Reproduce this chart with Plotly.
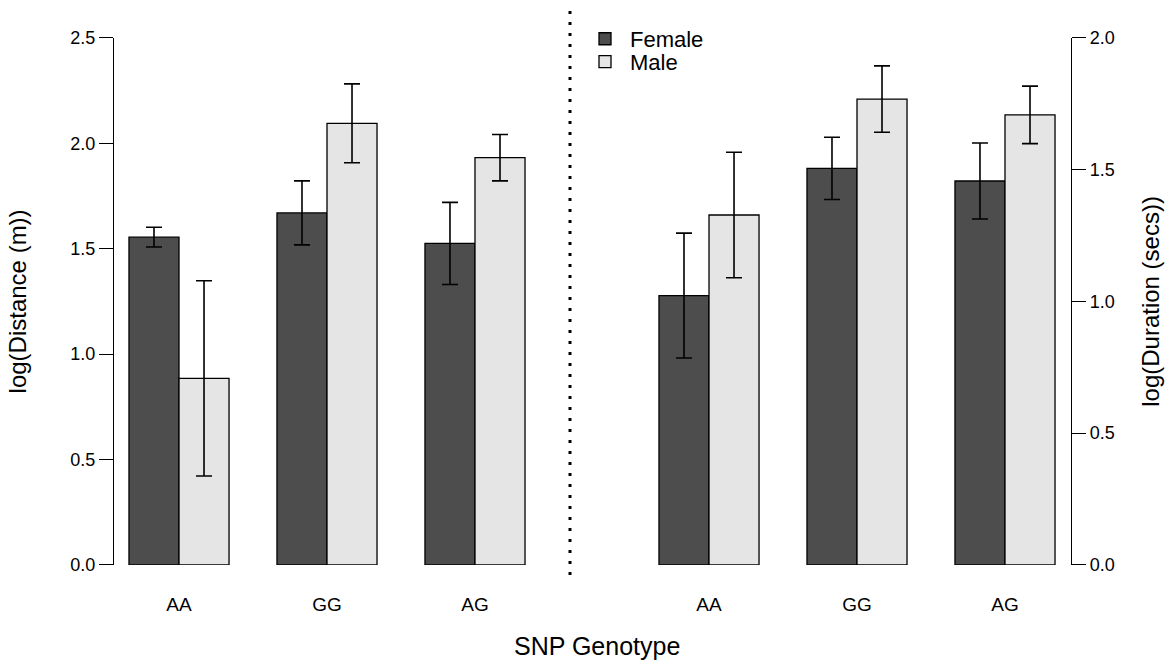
import plotly.graph_objects as go

# ---- data ----
genotypes = ["AA", "GG", "AG"]

dist_female = [1.555, 1.67, 1.525]
dist_female_err = [0.047, 0.152, 0.195]
dist_male = [0.885, 2.095, 1.932]
dist_male_err = [0.463, 0.187, 0.11]

dur_female = [1.022, 1.505, 1.457]
dur_female_err = [0.237, 0.118, 0.144]
dur_male = [1.328, 1.768, 1.708]
dur_male_err = [0.238, 0.126, 0.109]

left_ticks = [0.0, 0.5, 1.0, 1.5, 2.0, 2.5]
right_ticks = [0.0, 0.5, 1.0, 1.5, 2.0]

FEMALE_COL = "#4D4D4D"
MALE_COL = "#E5E5E5"
FONT = "Liberation Sans, Arial, Helvetica, sans-serif"

W, H = 1169, 668
# the photographed page shows the paper slightly inset vertically;
# map reference pixel rows onto paper fractions accordingly
Y_OFF, Y_SCALE = 9.0, 0.972


def px_x(p):
    return p / W


def px_y(p):
    return 1 - ((p - Y_OFF) / Y_SCALE) / H


fig = go.Figure()

err_style = dict(type="data", color="black", thickness=1.6, width=8)


def add_bars(xaxis, yaxis, f, fe, m, me, show):
    fig.add_trace(go.Bar(
        x=genotypes, y=f, name="Female", xaxis=xaxis, yaxis=yaxis,
        marker=dict(color=FEMALE_COL, line=dict(color="black", width=1.3)),
        error_y=dict(array=fe, **err_style), showlegend=show,
        legend="legend"))
    fig.add_trace(go.Bar(
        x=genotypes, y=m, name="Male", xaxis=xaxis, yaxis=yaxis,
        marker=dict(color=MALE_COL, line=dict(color="black", width=1.3)),
        error_y=dict(array=me, **err_style), showlegend=show,
        legend="legend2"))


add_bars("x", "y", dist_female, dist_female_err, dist_male, dist_male_err, True)
add_bars("x2", "y2", dur_female, dur_female_err, dur_male, dur_male_err, False)

ydom = [px_y(565), px_y(37)]
xrange_ = [-0.446, 2.446]

common_x = dict(
    type="category", range=xrange_, showline=False, showgrid=False,
    zeroline=False, ticks="outside", ticklen=22, tickcolor="rgba(0,0,0,0)",
    tickfont=dict(family=FONT, size=19, color="black"),
)
common_y = dict(
    showline=True, linecolor="black", linewidth=1.3, showgrid=False,
    zeroline=False, ticks="outside", ticklen=14, tickwidth=1.3,
    tickcolor="black", tickformat=".1f",
    tickfont=dict(family=FONT, size=18, color="black"),
    domain=ydom,
)

legend_common = dict(
    xanchor="left", yanchor="middle", bgcolor="rgba(0,0,0,0)",
    borderwidth=0, itemwidth=40,
    font=dict(family=FONT, size=22, color="black"),
)

fig.update_layout(
    width=W, height=H,
    margin=dict(l=0, r=0, t=0, b=0),
    paper_bgcolor="white", plot_bgcolor="rgba(0,0,0,0)",
    barmode="group", bargap=0.324, bargroupgap=0,
    font=dict(family=FONT, color="black"),
    xaxis=dict(domain=[px_x(113), px_x(541)], anchor="y", **common_x),
    xaxis2=dict(domain=[px_x(643), px_x(1071)], anchor="y2", **common_x),
    yaxis=dict(anchor="free", position=px_x(113), range=[0, 2.5],
               tickvals=left_ticks,
               title=dict(text="log(Distance (m))", standoff=35,
                          font=dict(family=FONT, size=24, color="black")),
               **common_y),
    yaxis2=dict(anchor="free", position=px_x(1071), side="right",
                range=[0, 2.0], tickvals=right_ticks,
                title=dict(text="log(Duration (secs))", standoff=28,
                           font=dict(family=FONT, size=24, color="black")),
                **common_y),
    legend=dict(x=px_x(580), y=px_y(38), **legend_common),
    legend2=dict(x=px_x(580), y=px_y(61), **legend_common),
    annotations=[dict(text="SNP Genotype", x=px_x(597), y=px_y(646),
                      xref="paper", yref="paper", showarrow=False,
                      xanchor="center", yanchor="middle",
                      font=dict(family=FONT, size=25, color="black"))],
    shapes=[dict(type="line", xref="paper", yref="paper",
                 x0=px_x(570), x1=px_x(570), y0=px_y(10), y1=px_y(582),
                 line=dict(color="black", width=3, dash="3px,8px"))],
)

fig.write_html("out.html")
